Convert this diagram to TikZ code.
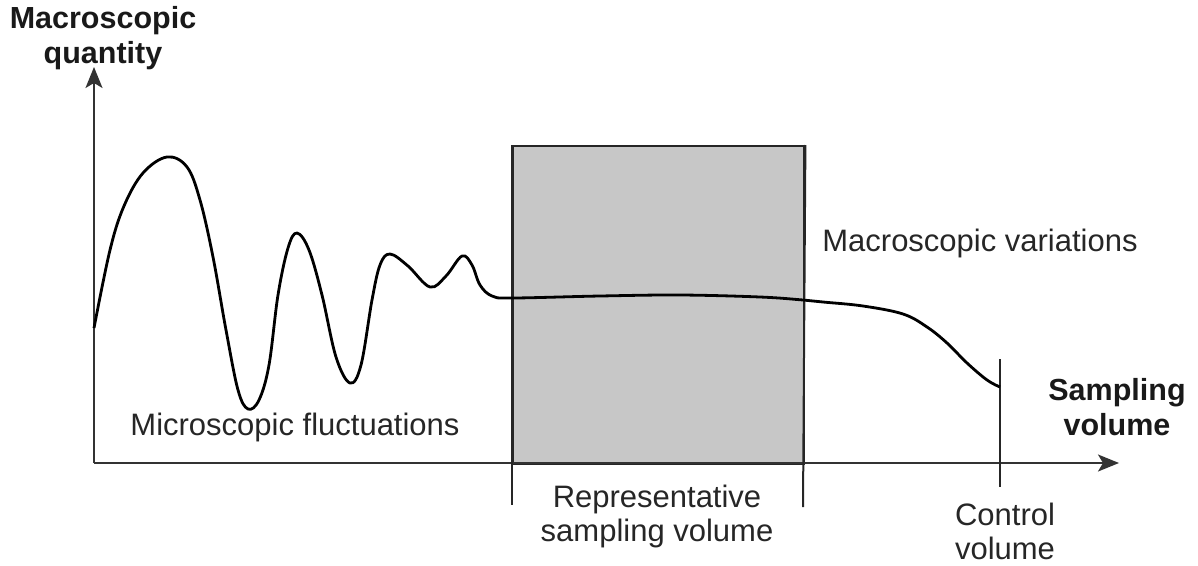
\documentclass[tikz,border=0pt]{standalone}
\usepackage{fontspec}
\setmainfont{Liberation Sans}
\usetikzlibrary{arrows.meta}
\begin{document}
\begin{tikzpicture}[x=1pt,y=-1pt,
  axisline/.style={line width=1.8pt, draw=black!80},
  curveline/.style={line width=2.8pt, black, line join=round},
  lbl/.style={font=\fontsize{31}{34}\selectfont, text=black!85, align=center, inner sep=0pt},
  blbl/.style={font=\fontsize{30.5}{35}\selectfont\bfseries, text=black!90, align=center, inner sep=0pt},
  tick/.style={line width=2pt, draw=black!85},
  tip/.style={-{Stealth[length=21pt, width=17pt, inset=5pt]}}]
\useasboundingbox (0,0) rectangle (1198,565);
% box
\node[draw=black!85, line width=2.4pt, fill=black!22, minimum width=291pt, minimum height=318pt, inner sep=0pt, anchor=north west] (rsv) at (512,145) {};
% axes
\coordinate (O) at (94,463);
\coordinate (ytip) at (94,67);
\coordinate (xtip) at (1119,463);
\draw[axisline, tip] (O) -- (ytip);
\draw[axisline, tip] (O) -- (xtip);
% extended box sides
\coordinate (bl) at (512,505);
\coordinate (br) at (803,507);
\draw[tick] (rsv.north west) -- (bl);
\draw[tick] (rsv.north east) -- (br);
% control volume line
\coordinate (ct) at (1000,359);
\coordinate (cb) at (1000,487);
\draw[line width=1.5pt, black!85] (ct) -- (cb);
% curve
\draw[curveline] plot[smooth, tension=0.6] coordinates {
 (94,328) (110,250) (124,206) (143,173) (167,157) (187,167) (200,200) (213,257) (226,330) (238,390) (248,409) (259,400) (269,365) (278,295) (288,248) (297,233) (309,250) (322,295) (336,357) (350,383) (361,365) (372,300) (380,265) (390,254) (408,266) (430,287) (446,276) (462,256) (472,265) (480,285) (492,296) (512,298) (600,296) (680,295) (760,297) (803,300) (823,302) (863,306) (903,314) (927,327) (947,343) (967,363) (987,380) (1000,387)};
% labels
\node[blbl] (ylab) at (103,38) {Macroscopic\\quantity};
\node[blbl] (xlab) at (1117,407) {Sampling\\volume};
\node[lbl] (micro) at (295,427) {Microscopic fluctuations};
\node[lbl] (macro) at (980,243) {Macroscopic variations};
\node[lbl] (rsvlab) at (657,516) {Representative\\sampling volume};
\node[lbl] (cvlab) at (1005,531) {Control\\volume};
\end{tikzpicture}
\end{document}
